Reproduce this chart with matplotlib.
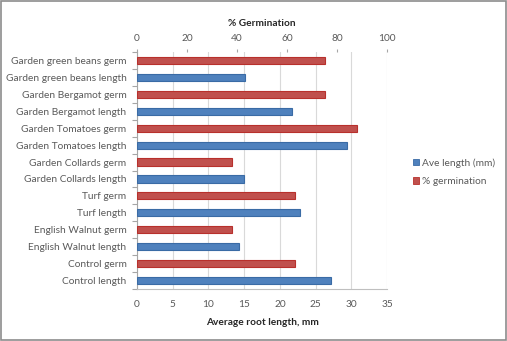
import matplotlib
matplotlib.use("Agg")
import matplotlib.pyplot as plt
import numpy as np
from matplotlib.patches import Rectangle, Patch

categories = [
    "Garden green beans germ", "Garden green beans length",
    "Garden Bergamot germ", "Garden Bergamot length",
    "Garden Tomatoes germ", "Garden Tomatoes length",
    "Garden Collards germ", "Garden Collards length",
    "Turf germ", "Turf length",
    "English Walnut germ", "English Walnut length",
    "Control germ", "Control length",
]
# Average root length (mm) for the "length" rows
length_cats = ["Garden green beans length", "Garden Bergamot length",
               "Garden Tomatoes length", "Garden Collards length",
               "Turf length", "English Walnut length", "Control length"]
length_vals = [15.1, 21.7, 29.4, 15.0, 22.8, 14.3, 27.2]
# % germination for the "germ" rows
germ_cats = ["Garden green beans germ", "Garden Bergamot germ",
             "Garden Tomatoes germ", "Garden Collards germ",
             "Turf germ", "English Walnut germ", "Control germ"]
germ_vals = [75, 75, 88, 38, 63, 38, 63]

bottom_ticks = [0, 5, 10, 15, 20, 25, 30, 35]
top_ticks = [0, 20, 40, 60, 80, 100]

FONT = "Lato"
plt.rcParams['font.family'] = [FONT, 'DejaVu Sans']
FS = 7.3
GRAY = "#595959"

fig = plt.figure(figsize=(5.07, 3.41), dpi=100)
ax = fig.add_axes([137/507, 1-289/341, 250/507, 237/341])
ax2 = ax.twiny()

pos = {c: i for i, c in enumerate(categories)}
blue = "#4F81BD"; blue_e = "#3A6BA5"
red = "#C0504D"; red_e = "#B8302C"
h = 0.42

ax.barh([pos[c] for c in length_cats], length_vals, height=h,
        color=blue, edgecolor=blue_e, linewidth=0.8, zorder=3)
ax2.barh([pos[c] for c in germ_cats], germ_vals, height=h,
         color=red, edgecolor=red_e, linewidth=0.8, zorder=3)

ax.set_ylim(len(categories)-0.5, -0.5)
ax.set_yticks(range(len(categories)))
ax.set_yticklabels(categories)
ax.set_yticks(np.arange(-0.5, len(categories)), minor=True)
ax.tick_params(axis='y', which='major', length=0, pad=7.5, labelsize=FS, labelcolor=GRAY)
ax.tick_params(axis='y', which='minor', length=3.5, color="#A6A6A6", width=0.8)

ax.set_xlim(0, 35)
ax.set_xticks(bottom_ticks)
ax.tick_params(axis='x', length=0, pad=8, labelsize=FS, labelcolor=GRAY)
ax.grid(axis='x', color="#D9D9D9", linewidth=0.8, zorder=0)
ax.set_axisbelow(True)
ax.set_xlabel("Average root length, mm", fontsize=FS, fontweight='bold',
              color="#262626", labelpad=6.5)

ax2.set_xlim(0, 100)
ax2.set_xticks(top_ticks)
ax2.tick_params(axis='x', length=2.5, color="#A6A6A6", pad=4, labelsize=FS, labelcolor=GRAY)
ax2.set_xlabel("% Germination", fontsize=FS, fontweight='bold', color="#262626", labelpad=6)

for a in (ax, ax2):
    a.spines['right'].set_visible(False)
    a.spines['top'].set_visible(False)
    a.spines['left'].set_color("#A6A6A6")
    a.spines['bottom'].set_color("#BFBFBF")
ax2.spines['left'].set_visible(False)
ax2.spines['bottom'].set_visible(False)

handles = [Patch(facecolor=blue, edgecolor=blue_e, linewidth=0.6),
           Patch(facecolor=red, edgecolor=red_e, linewidth=0.6)]
fig.legend(handles, ["Ave length (mm)", "% germination"],
           loc='upper left', bbox_to_anchor=(408/507, 1-153/341),
           frameon=False, fontsize=FS, handlelength=0.6, handleheight=0.6,
           handletextpad=0.3, labelspacing=0.95, labelcolor=GRAY, borderpad=0)

fig.patches.append(Rectangle((0.002, 0.003), 0.996, 0.994, transform=fig.transFigure,
                             fill=False, edgecolor="#8C8C8C", linewidth=1.2))

fig.savefig("out.png", dpi=100)
